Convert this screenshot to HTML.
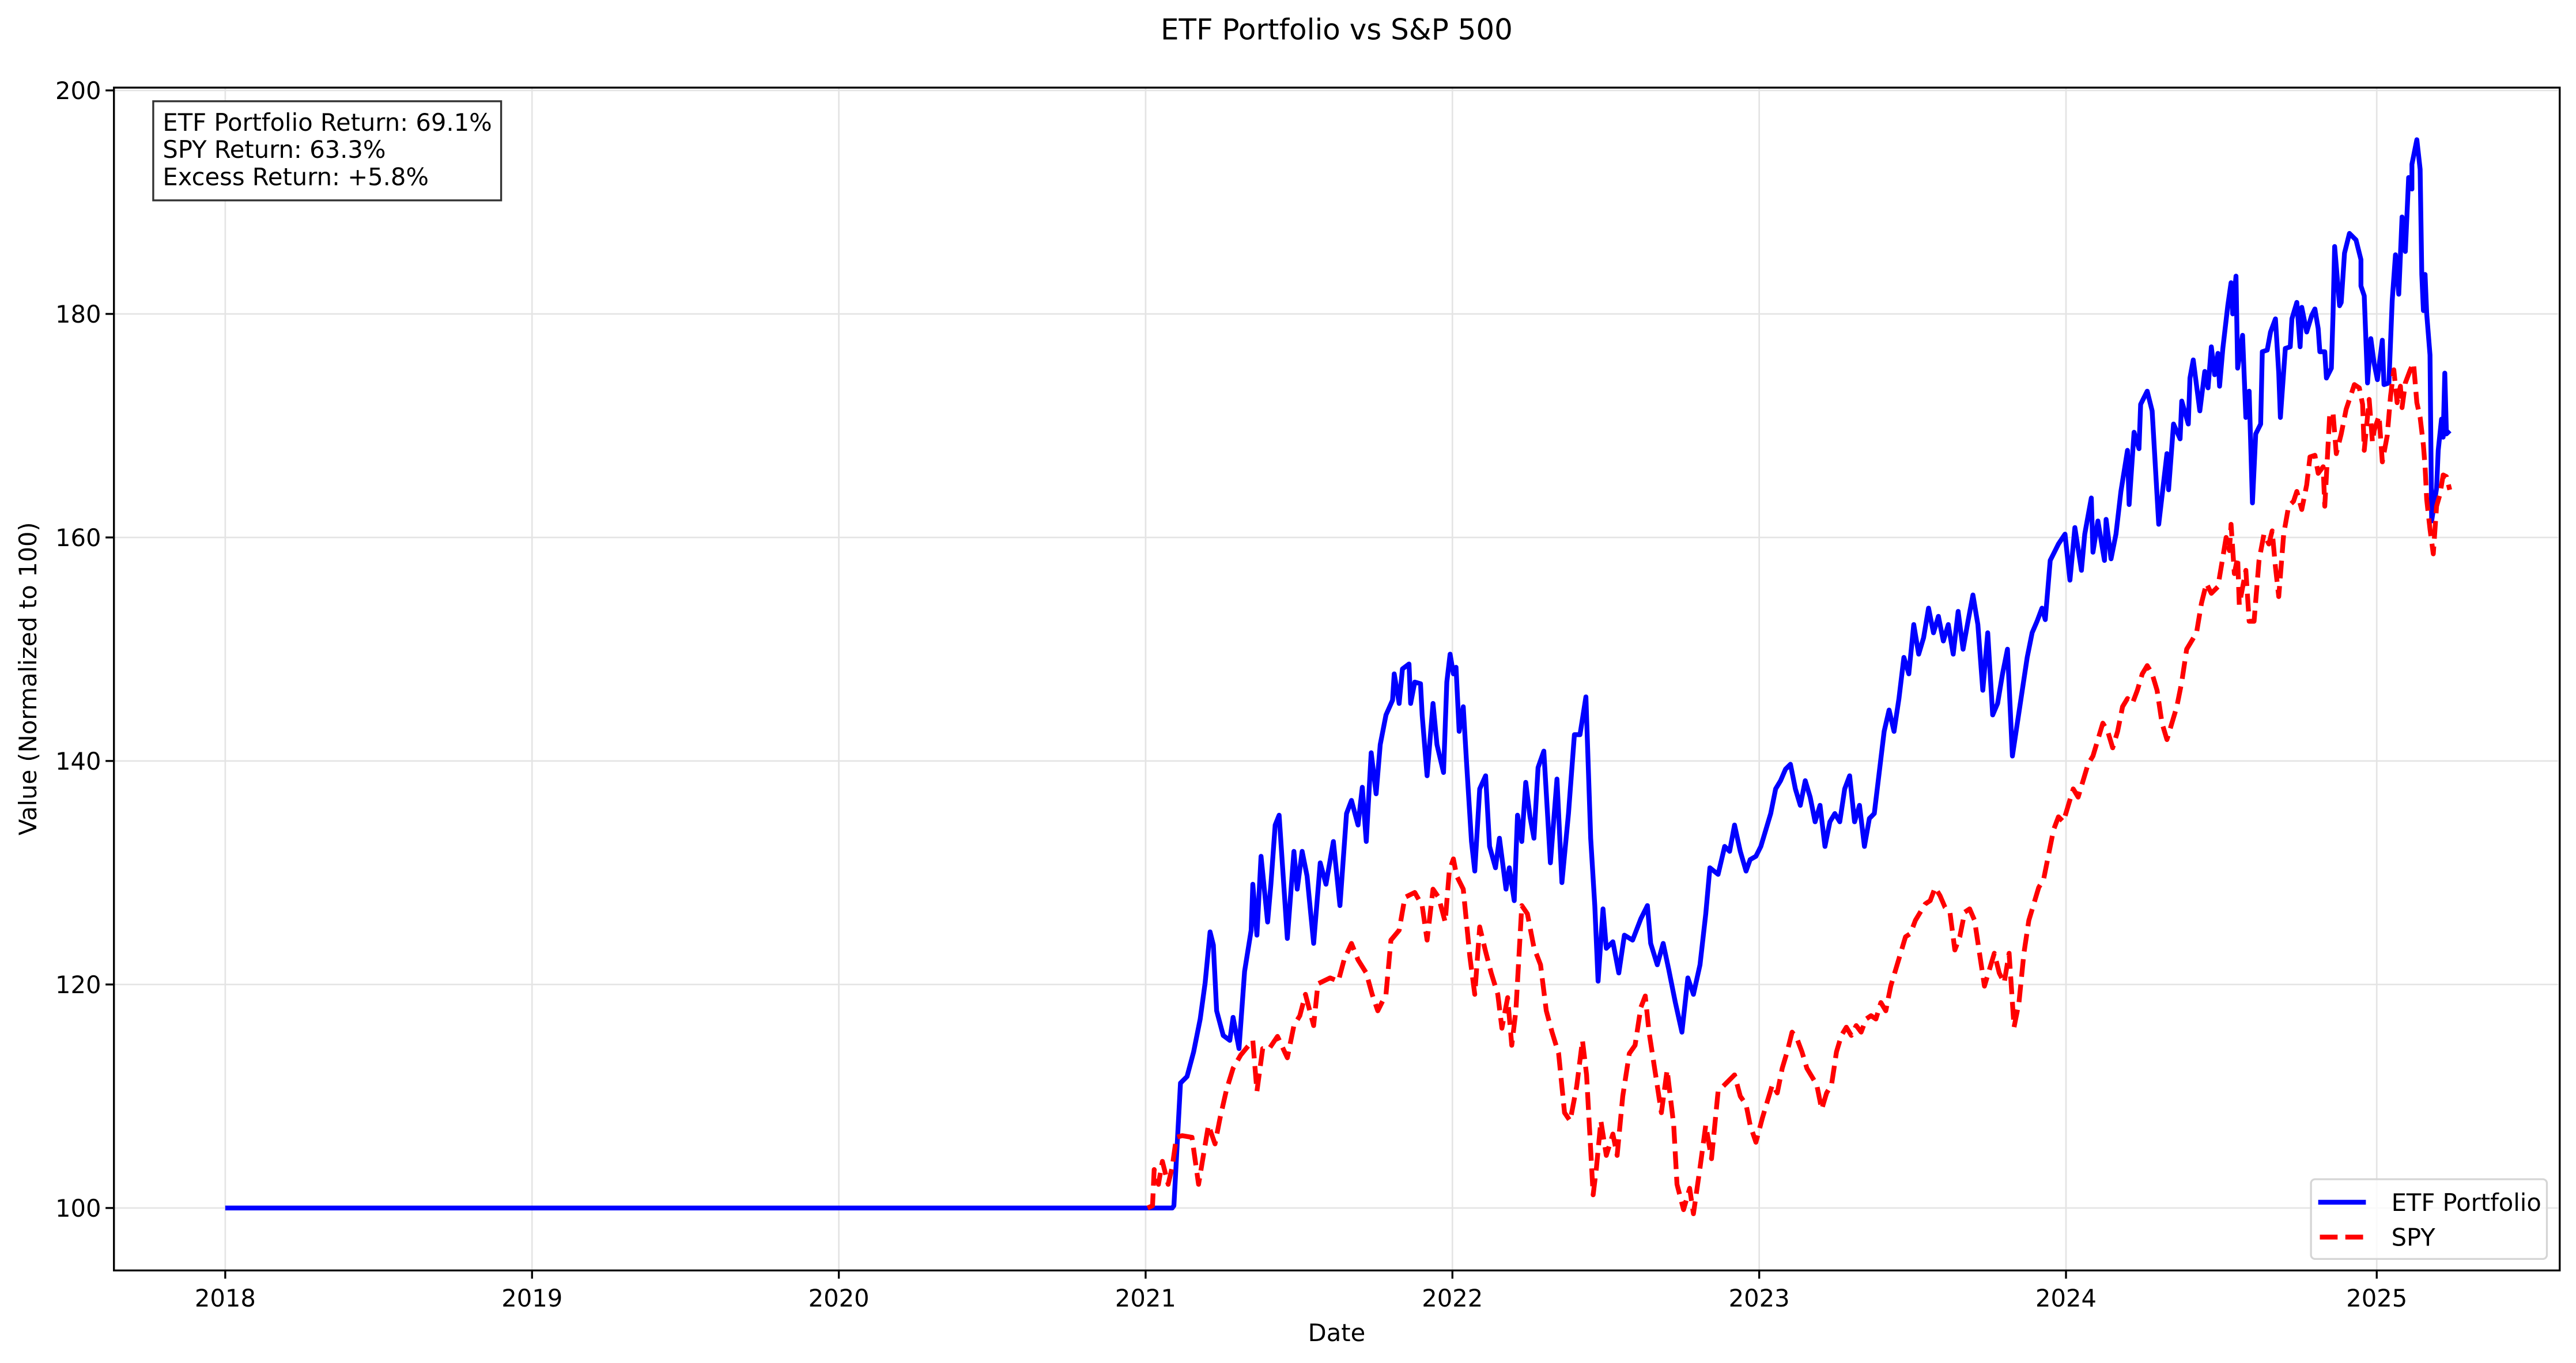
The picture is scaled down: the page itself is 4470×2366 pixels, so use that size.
<!DOCTYPE html>
<html><head><meta charset="utf-8"><style>
html,body{margin:0;padding:0;background:#fff;}
svg{display:block;}
text{font-family:"DejaVu Sans","Liberation Sans",sans-serif;fill:#000;}
</style></head><body>
<svg width="4470" height="2366" viewBox="0 0 1566.8 829.3" xmlns="http://www.w3.org/2000/svg">
<rect x="0" y="0" width="1566.8" height="829.3" fill="#fff"/>
<!-- grid -->
<g stroke="#e4e4e4" stroke-width="0.95">
<line x1="137" y1="53.5" x2="137" y2="773"/><line x1="323.6" y1="53.5" x2="323.6" y2="773"/><line x1="510.2" y1="53.5" x2="510.2" y2="773"/><line x1="696.8" y1="53.5" x2="696.8" y2="773"/><line x1="883.4" y1="53.5" x2="883.4" y2="773"/><line x1="1070" y1="53.5" x2="1070" y2="773"/><line x1="1256.6" y1="53.5" x2="1256.6" y2="773"/><line x1="1445.6" y1="53.5" x2="1445.6" y2="773"/>
<line x1="69.3" y1="55" x2="1556" y2="55"/><line x1="69.3" y1="191" x2="1556" y2="191"/><line x1="69.3" y1="327" x2="1556" y2="327"/><line x1="69.3" y1="463" x2="1556" y2="463"/><line x1="69.3" y1="599" x2="1556" y2="599"/><line x1="69.3" y1="735" x2="1556" y2="735"/>
</g>
<!-- series -->
<polyline fill="none" stroke="#0000ff" stroke-width="2.92" stroke-linejoin="round" points="137,735 713,735 714,733.6 718,659 722,655 726,640 730,620 733,598 736,567 738,575 740,615 744,630 748,633 750,619 753.6,638 757,591 761,566 762,538 764.5,569 767,521 771,561 773,538 775.6,502 778,496 783,571 787,518 789,541 792,518 795,533 799,574 803,525 806.5,538 811,512 815,551 819,495 822,487 826,502 828.6,479 831,512 834,458 837,483 839.5,453 843,435 847,426 848,410 851,428 853,407 857,404 858,428 860.5,415 864,416 865,435 868,472 871.6,428 874,453 878,470 880,415 882,398 884,410 885.6,406 887.5,445 890,430 892,464 895,512 897,530 900,480 903.6,472 906,515 909.6,528 912,510 916,541 918,528 921,548 923,496 925.6,512 928,476 930.6,497 933,510 935.5,467 939,457 943,525 947,474 950,537 954,495 957.6,447 961,447 964.6,424 967.5,510 970,551 972,597 975,553 977,577 981,573 984.6,592 988,569 993,572 998,559 1002,551 1004,574 1008,587 1011.6,574 1015,590 1019,610 1023,628 1026.6,595 1030,605 1034,587 1037.5,556 1040,528 1045,532 1049,515 1052,518 1055,502 1058.5,518 1062,530 1064.5,523 1068,521 1071,515 1074,505 1077,495 1080,480 1083,475 1086,468 1089,465 1092,480 1095,490 1098,475 1101,485 1104,500 1107,490 1110,515 1113,500 1116,495 1119,500 1122,480 1125,472 1128,500 1131,490 1134,515 1137,498 1140,495 1143,470 1146,445 1149,432 1152,445 1155,425 1158,400 1161,410 1164,380 1167,398 1170,388 1173,370 1176,385 1179,375 1182,390 1185,380 1188,398 1191,372 1194,395 1197,378 1200,362 1203,380 1206,420 1209,385 1212,435 1215,428 1218,410 1221,395 1224,460 1227,440 1230,420 1233,400 1236,385 1239,378 1242,370 1244,377 1247,341 1252,331 1256,325 1259,353 1262,321 1266,347 1268,325 1272,303 1273,336 1276,317 1280,341 1281,316 1284,340 1287,325 1290,299 1294,274 1295,307 1298,263 1301,273 1302,246 1306,238 1309,250 1313,319 1318,276 1319,298 1322,258 1326,267 1327,244 1331,258 1332,230 1334,219 1338,250 1341,226 1343,236 1345,211 1347,228 1349,215 1350,235 1352,212 1355,186 1357,172 1358,191 1360,168 1361,224 1364,204 1366,254 1368,238 1370,306 1372,264 1375,258 1376,214 1379,213 1381,202 1384,194 1386,227 1387,254 1390,212 1393,211 1394,194 1397,184 1399,211 1400,187 1403,202 1406,192 1408,188 1410,200 1411,214 1414,214 1415,230 1418,224 1419,192 1420,150 1423,186 1424,184 1426,154 1429,142 1433,146 1436,158 1436,174 1438,180 1440,233 1442,206 1444,221 1446,231 1449,207 1450,234 1453,233 1455,183 1457,155 1459,179 1461,132 1463,153 1465,108 1467,115 1467,100 1470,85 1472,103 1473,167 1474,189 1475,167 1476,191 1478,216 1479,317 1482,297 1483,274 1485,255 1486,266 1487,227 1488,264 1490,262"/>
<polyline fill="none" stroke="#ff0000" stroke-width="2.92" stroke-dasharray="10.8 4.7" stroke-linejoin="round" points="698,735 701,733.6 702,711.6 704.6,720.6 707,706.6 710.5,720.6 713,710 715.5,692 719,691 725,692 729,720.6 735,684.6 739,696 742,680.6 746,663 750,650 754.6,642 762,633 764.5,664 768,638 772,638 777,630.6 783,643.6 787,624 790.6,618 794,605 799,624 801.6,598.6 809,595 814,597 817.5,584 822,574 826,584 831,592 834.6,605 838,615 843,605 846,572 851,566 854.5,546 860.5,543 865,551 868,572 871.6,541 875,546 879,561 881.5,530 884,522.6 886,533 890,541 894,582 897,605 900,564 903.6,579 907,592 911,605 913.5,625.6 917,607 919.5,636 922,615 925.6,551 929,556 933,576.6 937,587 940.5,615 944,628 948,641 951.6,677 955,682 959,661 962.5,633 965,654 969,727 971,710.5 973.7,682 977,703 981,690 983.6,703 987,667 991,641 994.5,636 998,613 1000.7,606 1003,628 1007,654 1010.5,677 1014,651 1018,684.6 1020,720.6 1024,736 1027.7,723 1030,738.5 1034,710.5 1037.5,684.6 1041,705 1045,664 1050,659 1055,654 1058.5,667 1062,672 1064.5,684.6 1068,695 1072,680 1075,670 1078,660 1081,665 1084,650 1087,640 1090,628 1093,632 1096,640 1099,650 1102,655 1105,660 1108,675 1111,665 1114,660 1117,640 1120,630 1123,625 1126,630 1129,624 1132,628 1135,620 1138,618 1141,620 1144,610 1147,615 1150,600 1153,590 1156,580 1159,570 1162,568 1165,560 1168,555 1171,550 1174,548 1177,540 1180,545 1183,552 1186,555 1189,578 1192,570 1195,555 1198,553 1201,560 1204,580 1207,600 1210,590 1213,580 1216,592 1219,598 1222,580 1225,625 1228,610 1231,580 1234,560 1237,550 1240,540 1243,535 1246,520 1249,505 1252,497 1255,500 1258,490 1261,480 1264,485 1267,475 1270,465 1273,460 1276,450 1279,440 1282,445 1285,455 1288,445 1291,430 1294,425 1297,428 1300,420 1303,410 1306,405 1309,410 1312,420 1315,440 1318,450 1321,440 1324,430 1327,415 1330,395 1333,390 1336,385 1339,367 1342,355 1345,361 1349,357 1352,339 1354,327 1356,335 1357,319 1359,349 1361,339 1362,368 1366,347 1368,378 1371,378 1374,341 1377,325 1380,331 1382,323 1384,345 1386,363 1389,325 1392,308 1395,305 1397,299 1400,310 1403,295 1405,278 1408,277 1410,288 1413,284 1414,308 1417,252 1419,251 1421,276 1424,264 1427,249 1430,240 1432,234 1435,236 1437,246 1438,274 1441,243 1443,269 1444,262 1447,253 1449,281 1452,265 1454,241 1456,225 1458,245 1460,235 1461,248 1463,233 1466,225 1468,221 1470,245 1472,254 1474,271 1475,284 1476,304 1478,322 1480,337 1482,308 1484,301 1486,289 1488,290 1490,298"/>
<!-- spines -->
<rect x="69.3" y="53.3" width="1487.6" height="719.7" fill="none" stroke="#000" stroke-width="1.17"/>
<!-- ticks -->
<g stroke="#000" stroke-width="1.17">
<line x1="137" y1="773" x2="137" y2="778"/><line x1="323.6" y1="773" x2="323.6" y2="778"/><line x1="510.2" y1="773" x2="510.2" y2="778"/><line x1="696.8" y1="773" x2="696.8" y2="778"/><line x1="883.4" y1="773" x2="883.4" y2="778"/><line x1="1070" y1="773" x2="1070" y2="778"/><line x1="1256.6" y1="773" x2="1256.6" y2="778"/><line x1="1445.6" y1="773" x2="1445.6" y2="778"/>
<line x1="64.2" y1="55" x2="69.3" y2="55"/><line x1="64.2" y1="191" x2="69.3" y2="191"/><line x1="64.2" y1="327" x2="69.3" y2="327"/><line x1="64.2" y1="463" x2="69.3" y2="463"/><line x1="64.2" y1="599" x2="69.3" y2="599"/><line x1="64.2" y1="735" x2="69.3" y2="735"/>
</g>
<g font-size="14.6" text-anchor="middle">
<text x="137" y="795">2018</text><text x="323.6" y="795">2019</text><text x="510.2" y="795">2020</text><text x="696.8" y="795">2021</text><text x="883.4" y="795">2022</text><text x="1070" y="795">2023</text><text x="1256.6" y="795">2024</text><text x="1445.6" y="795">2025</text>
</g>
<g font-size="14.6" text-anchor="end">
<text x="61.5" y="60.2">200</text><text x="61.5" y="196.2">180</text><text x="61.5" y="332.2">160</text><text x="61.5" y="468.2">140</text><text x="61.5" y="604.2">120</text><text x="61.5" y="740.2">100</text>
</g>
<text x="813" y="816" font-size="14.6" text-anchor="middle">Date</text>
<text transform="translate(22,413) rotate(-90)" font-size="14.6" text-anchor="middle">Value (Normalized to 100)</text>
<text x="813" y="24" font-size="17.5" text-anchor="middle">ETF Portfolio vs S&amp;P 500</text>
<!-- text box -->
<rect x="93.2" y="61.6" width="211.6" height="60.3" fill="#fff" stroke="#333" stroke-width="1.17"/>
<g font-size="14.6">
<text x="99" y="79.5">ETF Portfolio Return: 69.1%</text>
<text x="99" y="96">SPY Return: 63.3%</text>
<text x="99" y="112.6">Excess Return: +5.8%</text>
</g>
<!-- legend -->
<rect x="1405.6" y="717.5" width="143.5" height="48.5" rx="2.5" fill="#fff" fill-opacity="0.8" stroke="#d5d5d5" stroke-width="1.17"/>
<line x1="1410" y1="731.5" x2="1439" y2="731.5" stroke="#0000ff" stroke-width="2.92"/>
<line x1="1411" y1="752.7" x2="1439" y2="752.7" stroke="#ff0000" stroke-width="2.92" stroke-dasharray="10.8 4.7"/>
<g font-size="14.6"><text x="1454.5" y="736.7">ETF Portfolio</text><text x="1454.5" y="757.9">SPY</text></g>
</svg>
</body></html>
